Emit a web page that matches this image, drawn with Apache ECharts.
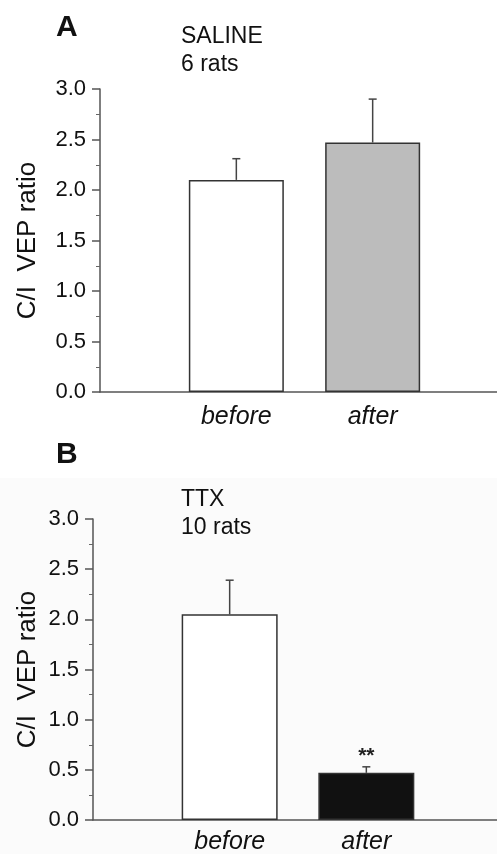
<!DOCTYPE html>
<html>
<head>
<meta charset="utf-8">
<script src="https://cdn.jsdelivr.net/npm/echarts@6/dist/echarts.min.js"></script>
<style>
  html, body { margin: 0; padding: 0; background: #fff; }
  #container { width: 497px; height: 854px; }
</style>
</head>
<body>
<div id="container"></div>
<script>
// category slots: empty ends give the spacing of the original figure
var categories = ['', 'before', 'after', ''];
var yTicks = [0, 0.5, 1.0, 1.5, 2.0, 2.5, 3.0];

var salineMean = [2.10, 2.47];
var salineSem = [0.21, 0.43];
var ttxMean = [2.05, 0.47];
var ttxSem = [0.34, 0.06];
var ttxMarks = ['', '**'];

var font = '"Liberation Sans", Arial, sans-serif';

var barData = function (means) {
    return ['-'].concat(means).concat(['-']);
};

var errData = function (means, sems, marks) {
    var out = [];
    for (var i = 0; i < means.length; i++) {
        out.push([i + 1, means[i], sems[i], marks ? marks[i] : '']);
    }
    return out;
};

var renderErr = function (params, api) {
    var idx = api.value(0);
    var mean = api.value(1);
    var sem = api.value(2);
    var base = api.coord([idx, mean]);
    var top = api.coord([idx, mean + sem]);
    var st = { stroke: '#444', lineWidth: 1.5 };
    var kids = [
        { type: 'line', shape: { x1: base[0], y1: base[1], x2: top[0], y2: top[1] }, style: st },
        { type: 'line', shape: { x1: top[0] - 4, y1: top[1], x2: top[0] + 4, y2: top[1] }, style: st }
    ];
    var txt = api.value(3);
    if (txt) {
        kids.push({
            type: 'text',
            style: {
                text: txt, x: top[0], y: top[1] - 11,
                align: 'center', verticalAlign: 'middle',
                fontSize: 21, fontWeight: 'bold', fontFamily: font, fill: '#222'
            }
        });
    }
    return { type: 'group', children: kids };
};

var xAxisOf = function (gi) {
    return {
        type: 'category',
        gridIndex: gi,
        data: categories,
        boundaryGap: false,
        axisLine: { show: true, lineStyle: { color: '#555', width: 1.5 } },
        axisTick: { show: false },
        axisLabel: {
            margin: gi === 0 ? 13 : 10,
            fontSize: 25, fontStyle: 'italic', fontFamily: font, color: '#111'
        }
    };
};

var yAxisOf = function (gi, gap) {
    return {
        type: 'value',
        gridIndex: gi,
        min: yTicks[0],
        max: yTicks[yTicks.length - 1],
        interval: 0.5,
        name: 'C/I  VEP ratio',
        nameLocation: 'middle',
        nameRotate: 90,
        nameGap: gap,
        nameMoveOverlap: false,
        nameTextStyle: { fontSize: 26, fontFamily: font, color: '#111' },
        axisLine: { show: true, lineStyle: { color: '#555', width: 1.5 } },
        axisTick: { show: true, inside: false, length: 8, lineStyle: { color: '#555', width: 1.5 } },
        minorTick: { show: true, splitNumber: 2, length: 4, lineStyle: { color: '#666', width: 1 } },
        splitLine: { show: false },
        axisLabel: {
            margin: 14, fontSize: 22, fontFamily: font, color: '#111',
            formatter: function (v) { return v.toFixed(1); }
        }
    };
};

var option = {
    backgroundColor: '#ffffff',
    animation: false,
    graphic: [{
        type: 'rect', z: -10, silent: true,
        shape: { x: 0, y: 478, width: 497, height: 376 },
        style: { fill: '#fbfbfb' }
    }],
    title: [
        { text: 'A', left: 56, top: 13, padding: 0, textStyle: { fontSize: 30, fontWeight: 'bold', fontFamily: font, color: '#111' } },
        { text: 'SALINE\n6 rats', left: 181, top: 23, padding: 0, textStyle: { fontSize: 23, lineHeight: 28, fontWeight: 'normal', fontFamily: font, color: '#111' } },
        { text: 'B', left: 56, top: 440, padding: 0, textStyle: { fontSize: 30, fontWeight: 'bold', fontFamily: font, color: '#111' } },
        { text: 'TTX\n10 rats', left: 181, top: 486, padding: 0, textStyle: { fontSize: 23, lineHeight: 28, fontWeight: 'normal', fontFamily: font, color: '#111' } }
    ],
    grid: [
        { left: 100, top: 89, right: -12, bottom: 462, outerBoundsMode: 'none' },
        { left: 93, top: 519, right: -6, bottom: 34, outerBoundsMode: 'none' }
    ],
    xAxis: [xAxisOf(0), xAxisOf(1)],
    yAxis: [yAxisOf(0, 59), yAxisOf(1, 52)],
    series: [
        {
            type: 'bar', xAxisIndex: 0, yAxisIndex: 0, barWidth: 95,
            data: barData(salineMean).map(function (v, i) {
                return { value: v, itemStyle: { color: i === 2 ? '#bcbcbc' : '#ffffff', borderColor: '#333', borderWidth: 1.5 } };
            })
        },
        {
            type: 'custom', xAxisIndex: 0, yAxisIndex: 0, z: 3,
            renderItem: renderErr,
            data: errData(salineMean, salineSem)
        },
        {
            type: 'bar', xAxisIndex: 1, yAxisIndex: 1, barWidth: 96,
            data: barData(ttxMean).map(function (v, i) {
                return { value: v, itemStyle: { color: i === 2 ? '#111111' : '#ffffff', borderColor: '#333', borderWidth: 1.5 } };
            })
        },
        {
            type: 'custom', xAxisIndex: 1, yAxisIndex: 1, z: 3,
            renderItem: renderErr,
            data: errData(ttxMean, ttxSem, ttxMarks)
        }
    ]
};

var myChart = echarts.init(document.getElementById('container'));
myChart.setOption(option);
</script>
</body>
</html>
